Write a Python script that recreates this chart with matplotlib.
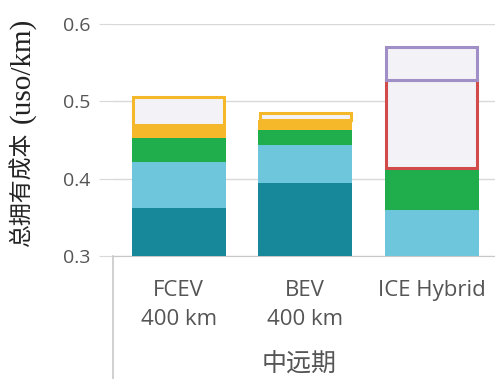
import numpy as np
import matplotlib.pyplot as plt
from matplotlib.lines import Line2D

# data (cost, USD/km), stacked segments
categories = ["FCEV\n400 km", "BEV\n400 km", "ICE Hybrid"]
group_label = "中远期"
ylabel_cn = "总拥有成本"
ylabel_unit = "(uso/km)"
base = 0.3
seg_dark = [0.062, 0.094, 0.0]
seg_light = [0.060, 0.050, 0.060]
seg_green = [0.030, 0.019, 0.054]
seg_yellow = [0.017, 0.013, 0.0]
box_yellow = [0.037, 0.009, 0.0]
box_red = [0.0, 0.0, 0.114]
box_purple = [0.0, 0.0, 0.042]

fill_colors = ["#17879a", "#6ec6dc", "#1fae4b", "#f5b82a"]
box_edges = ["#f5b82a", "#d24b4b", "#a08fc6"]
box_fill = "#f3f2f7"

fig = plt.figure(figsize=(4.95, 3.79), dpi=100)
ax = fig.add_axes([113 / 495, (379 - 256) / 379, 1 - 113 / 495, (256 - 24) / 379])

x = np.arange(len(categories))
width = 0.74
bottom = np.full(len(categories), base)
for vals, c in zip([seg_dark, seg_light, seg_green, seg_yellow], fill_colors):
    v = np.array(vals)
    ax.bar(x, v, width, bottom=bottom, color=c, linewidth=0, zorder=3)
    bottom = bottom + v

for vals, ec in zip([box_yellow, box_red, box_purple], box_edges):
    v = np.array(vals)
    mask = v > 0
    ax.bar(x[mask], v[mask], width * 0.97, bottom=bottom[mask], color=box_fill,
           edgecolor=ec, linewidth=2.2, zorder=3)
    bottom = bottom + v

ax.set_xlim(-0.52, 2.5)
ax.set_ylim(0.3, 0.6)
ax.set_yticks([0.3, 0.4, 0.5, 0.6])
ax.set_yticklabels(["0.3", "0.4", "0.5", "0.6"])
ax.set_xticks(x)
ax.set_xticklabels(categories, linespacing=1.55)
ax.grid(axis="y", color="#d9d9d9", linewidth=1, zorder=0)
for s in ["top", "right", "left"]:
    ax.spines[s].set_visible(False)
ax.spines["bottom"].set_color("#c8c8c8")
ax.tick_params(axis="y", length=10, color="#d9d9d9", labelsize=14,
               labelcolor="#555555", pad=6)
ax.tick_params(axis="x", length=0, labelsize=16, labelcolor="#555555", pad=17)
for lbl in ax.get_xticklabels() + ax.get_yticklabels():
    lbl.set_family(["Open Sans", "DejaVu Sans"])

# y label: Chinese part and unit part
fig.text(22 / 495, (379 - 190) / 379, ylabel_cn, rotation=90,
         ha="center", va="center", fontsize=16.5,
         family=["Noto Sans CJK SC", "DejaVu Sans"], color="#222222")
fig.text(22 / 495, (379 - 70) / 379, ylabel_unit, rotation=90,
         ha="center", va="center", fontsize=21,
         family=["Liberation Serif", "DejaVu Serif"], color="#222222")

# group separator line and group label below the axis
fig.add_artist(Line2D([113 / 495, 113 / 495], [0, (379 - 256) / 379],
                      color="#c8c8c8", linewidth=1.2))
fig.text(299 / 495, (379 - 365) / 379, group_label, ha="center", va="center",
         fontsize=18, color="#555555", family=["Noto Sans CJK SC", "DejaVu Sans"])

fig.savefig("out.png", dpi=100)
